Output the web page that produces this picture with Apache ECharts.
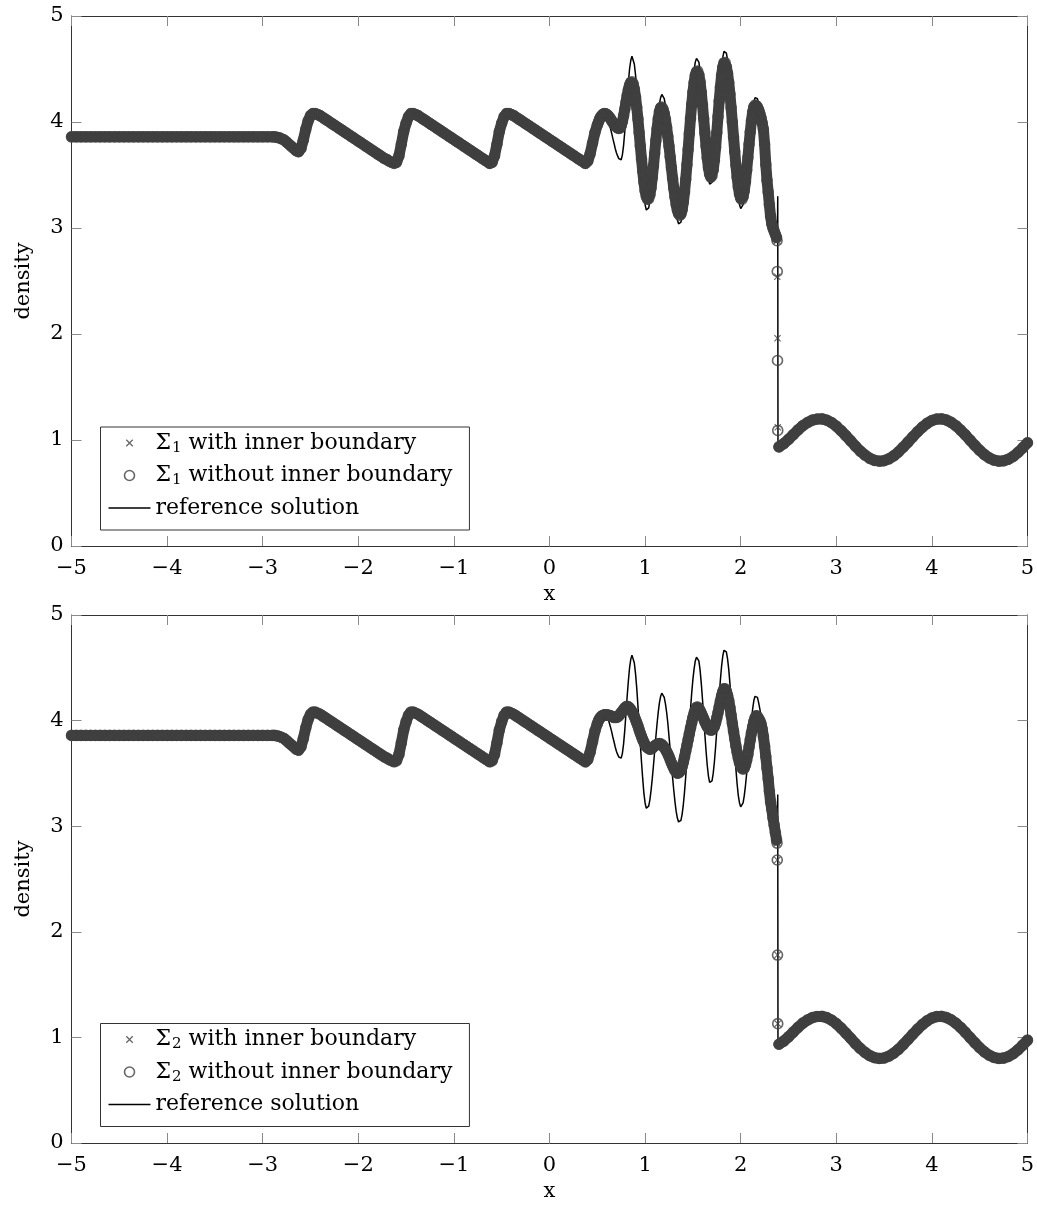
<!DOCTYPE html>
<html>
<head>
<meta charset="utf-8">
<script src="https://cdn.jsdelivr.net/npm/echarts@6/dist/echarts.min.js"></script>
<style>
html,body{margin:0;padding:0;background:#fff;}
#chart{width:1037px;height:1205px;}
</style>
</head>
<body>
<div id="chart"></div>
<script>
// ---------- mesh (cell positions) ----------
function mesh(a, b, h) {
  const n = Math.round((b - a) / h), r = [];
  for (let i = 0; i <= n; i++) r.push(+(a + i * h).toFixed(4));
  return r;
}
const xFlat   = mesh(-5, -2.95, 0.05);      // undisturbed left state
const xSmooth = mesh(-2.9, 0.5, 0.025);     // entropy waves
const xOsc    = mesh(0.5125, 2.375, 0.0125);// high-frequency region
const xRight  = mesh(2.40, 5.0, 0.05);      // pre-shock state
const xShock  = [2.38, 2.3825, 2.385, 2.3875];
const xRefShock = [2.385, 2.3875, 2.39];

// ---------- density values ----------
const rhoFlat = [
  3.86,3.86,3.86,3.86,3.86,3.86,3.86,
  3.86,3.86,3.86,3.86,3.86,3.86,3.86,
  3.86,3.86,3.86,3.86,3.86,3.86,3.86,
  3.86,3.86,3.86,3.86,3.86,3.86,3.86,
  3.86,3.86,3.86,3.86,3.86,3.86,3.86,
  3.86,3.86,3.86,3.86,3.86,3.86,3.86
];
const rhoSmooth = [
  3.86,3.86,3.855,3.85,3.84,3.83,3.81,3.79,3.77,3.75,
  3.73,3.72,3.75,3.83,3.93,4.01,4.06,4.08,4.08,4.07,
  4.06,4.045,4.03,4.015,4.00,3.985,3.97,3.955,3.94,3.925,
  3.91,3.895,3.88,3.865,3.85,3.835,3.82,3.805,3.79,3.775,
  3.76,3.745,3.73,3.715,3.70,3.685,3.67,3.655,3.645,3.63,
  3.62,3.61,3.62,3.68,3.79,3.91,3.99,4.05,4.08,4.08,
  4.07,4.06,4.045,4.03,4.015,4.00,3.985,3.97,3.955,3.94,
  3.925,3.91,3.895,3.88,3.865,3.85,3.835,3.82,3.805,3.79,
  3.775,3.76,3.745,3.73,3.715,3.70,3.685,3.67,3.655,3.64,
  3.625,3.61,3.62,3.68,3.79,3.91,3.99,4.05,4.08,4.08,
  4.07,4.06,4.045,4.03,4.015,4.00,3.985,3.97,3.955,3.94,
  3.925,3.91,3.895,3.88,3.865,3.85,3.835,3.82,3.805,3.79,
  3.775,3.76,3.745,3.73,3.715,3.70,3.685,3.67,3.655,3.64,
  3.625,3.61,3.63,3.70,3.80,3.90,3.97
];
const rhoRight = [
  0.935,0.965,1.005,1.05,1.095,1.135,1.165,1.188,1.198,1.199,
  1.187,1.164,1.13,1.088,1.041,0.992,0.942,0.896,0.858,0.827,
  0.808,0.80,0.805,0.822,0.85,0.887,0.932,0.98,1.03,1.078,
  1.121,1.157,1.183,1.197,1.199,1.189,1.167,1.135,1.094,1.048,
  0.998,0.949,0.902,0.862,0.831,0.81,0.80,0.804,0.819,0.845,
  0.882,0.926,0.974
];
const refOsc = [
  4.00,4.03,4.05,4.06,4.07,4.07,4.064,4.05,4.02,3.98,
  3.94,3.895,3.845,3.80,3.75,3.71,3.68,3.655,3.642,3.644,
  3.69,3.78,3.91,4.07,4.23,4.375,4.50,4.58,4.62,4.605,
  4.545,4.445,4.31,4.14,3.96,3.78,3.605,3.45,3.31,3.22,
  3.17,3.163,3.19,3.25,3.34,3.45,3.575,3.71,3.845,3.97,
  4.08,4.17,4.23,4.26,4.255,4.22,4.16,4.08,3.98,3.85,
  3.725,3.59,3.46,3.34,3.23,3.14,3.077,3.04,3.03,3.055,
  3.115,3.205,3.325,3.47,3.62,3.785,3.955,4.11,4.26,4.39,
  4.49,4.565,4.60,4.606,4.565,4.48,4.355,4.205,4.04,3.87,
  3.715,3.577,3.475,3.415,3.40,3.43,3.50,3.61,3.75,3.91,
  4.07,4.24,4.385,4.515,4.61,4.666,4.68,4.65,4.585,4.485,
  4.35,4.205,4.035,3.86,3.69,3.54,3.40,3.29,3.22,3.183,
  3.186,3.22,3.29,3.385,3.50,3.63,3.765,3.895,4.01,4.11,
  4.19,4.23,4.24,4.22,4.17,4.11,4.04,3.95,3.84,3.71,
  3.58,3.45,3.33,3.23,3.14,3.08,3.04,3.01,2.985,2.97
];
const refShock = [3.00, 3.30, 0.93];
const sigma1Osc = [
  4.00,4.03,4.05,4.065,4.075,4.08,4.078,4.071,4.061,4.047,
  4.031,4.013,3.996,3.979,3.965,3.953,3.944,3.94,3.944,3.965,
  4.004,4.059,4.12,4.186,4.25,4.305,4.348,4.373,4.38,4.359,
  4.31,4.236,4.138,4.029,3.902,3.774,3.65,3.536,3.432,3.352,
  3.299,3.272,3.276,3.313,3.38,3.474,3.584,3.705,3.826,3.935,
  4.03,4.097,4.134,4.14,4.12,4.082,4.026,3.951,3.865,3.773,
  3.672,3.569,3.469,3.375,3.293,3.222,3.169,3.135,3.12,3.131,
  3.172,3.242,3.339,3.46,3.596,3.74,3.89,4.034,4.167,4.281,
  4.371,4.439,4.474,4.48,4.445,4.378,4.281,4.163,4.033,3.899,
  3.773,3.661,3.568,3.506,3.48,3.493,3.547,3.638,3.759,3.90,
  4.05,4.198,4.327,4.441,4.519,4.557,4.56,4.521,4.458,4.372,
  4.263,4.133,4.0,3.858,3.721,3.592,3.478,3.387,3.319,3.28,
  3.27,3.295,3.352,3.437,3.545,3.665,3.79,3.908,4.011,4.094,
  4.142,4.16,4.155,4.14,4.115,4.08,4.04,3.99,3.93,3.79,
  3.60,3.45,3.34,3.22,3.11,3.04,3.0,2.97,2.94,2.91
];
const sigma1WithShock    = [2.88, 2.54, 1.96, 1.12];
const sigma1WithoutShock = [2.88, 2.59, 1.75, 1.09];
const sigma2Osc = [
  4.00,4.02,4.035,4.045,4.05,4.055,4.055,4.055,4.05,4.05,
  4.045,4.04,4.035,4.03,4.03,4.03,4.035,4.045,4.06,4.075,
  4.09,4.105,4.12,4.13,4.135,4.13,4.12,4.105,4.085,4.065,
  4.04,4.01,3.98,3.95,3.915,3.88,3.85,3.82,3.795,3.77,
  3.755,3.745,3.735,3.73,3.732,3.74,3.75,3.76,3.768,3.775,
  3.78,3.782,3.78,3.772,3.76,3.745,3.728,3.708,3.685,3.66,
  3.63,3.60,3.575,3.55,3.528,3.512,3.503,3.505,3.515,3.535,
  3.565,3.605,3.655,3.71,3.765,3.82,3.875,3.93,3.98,4.03,
  4.07,4.10,4.125,4.128,4.115,4.095,4.07,4.045,4.018,3.99,
  3.965,3.943,3.927,3.915,3.91,3.912,3.925,3.945,3.98,4.025,
  4.075,4.13,4.185,4.235,4.275,4.30,4.30,4.28,4.24,4.19,
  4.125,4.05,3.975,3.90,3.83,3.76,3.70,3.645,3.60,3.57,
  3.55,3.54,3.55,3.58,3.625,3.68,3.75,3.82,3.885,3.94,
  3.99,4.025,4.045,4.04,4.02,4.0,3.97,3.92,3.85,3.76,
  3.66,3.55,3.45,3.33,3.23,3.16,3.08,3.01,2.94,2.87
];
const sigma2WithShock    = [2.84, 2.68, 1.78, 1.13];
const sigma2WithoutShock = [2.84, 2.68, 1.78, 1.13];

const xTicks = [-5,-4,-3,-2,-1,0,1,2,3,4,5];
const yTicks = [0,1,2,3,4,5];

// ---------- assembly ----------
function pts(xs, ys) {
  if (xs.length !== ys.length) throw new Error('length mismatch ' + xs.length + ' / ' + ys.length);
  return xs.map((x, i) => [x, ys[i]]);
}
const common = [...pts(xFlat, rhoFlat), ...pts(xSmooth, rhoSmooth)];
const right = pts(xRight, rhoRight);
const refData = [...common, ...pts(xOsc, refOsc), ...pts(xRefShock, refShock), ...right];
function markerData(osc, shock) { return [...common, ...pts(xOsc, osc), ...pts(xShock, shock), ...right]; }
function bandData(osc) { return [...common, ...pts(xOsc, osc), [2.39, '-'], ...right]; }

const FONT = 'DejaVu Serif';
const MARK = '#404040';
const X_PATH = 'path://M0.8,0L3.5,2.7L6.2,0L7,0.8L4.3,3.5L7,6.2L6.2,7L3.5,4.3L0.8,7L0,6.2L2.7,3.5L0,0.8Z';
const X_ICON = 'path://M0,0h0.01v0.01h-0.01z M9.99,9.99h0.01v0.01h-0.01z M2.2,1.3L5,4.1L7.8,1.3L8.7,2.2L5.9,5L8.7,7.8L7.8,8.7L5,5.9L2.2,8.7L1.3,7.8L4.1,5L1.3,2.2Z';
const LINE_ICON = 'path://M0,0L42,0L42,1.5L0,1.5Z';

const legendLabels = {
  s1w:  '{n|Σ}{s|1}{n| with inner boundary}',
  s1wo: '{n|Σ}{s|1}{n| without inner boundary}',
  s2w:  '{n|Σ}{s|2}{n| with inner boundary}',
  s2wo: '{n|Σ}{s|2}{n| without inner boundary}',
  'reference solution': '{n|reference solution}'
};
const fmtTick = v => (v < 0 ? '\u2212' + Math.abs(v) : String(v));
const lineStyleAxis = { color: '#333', width: 1 };
const tickStyle = { color: '#8a8a8a', width: 1 };

function xAx(g, pos) {
  return {
    type: 'value', gridIndex: g, position: pos, min: xTicks[0], max: xTicks[xTicks.length - 1], interval: 1,
    axisLine: { show: true, onZero: false, lineStyle: lineStyleAxis },
    axisTick: { show: true, inside: true, length: 10, lineStyle: tickStyle },
    axisLabel: { show: pos === 'bottom', margin: 12, fontFamily: FONT, fontSize: 21, color: '#000',
      formatter: fmtTick, showMinLabel: true, showMaxLabel: true },
    splitLine: { show: false },
    name: pos === 'bottom' ? 'x' : '', nameLocation: 'middle', nameGap: 38,
    nameTextStyle: { fontFamily: FONT, fontSize: 21, color: '#000' }
  };
}
function yAx(g, pos) {
  return {
    type: 'value', gridIndex: g, position: pos, min: yTicks[0], max: yTicks[yTicks.length - 1], interval: 1,
    axisLine: { show: true, onZero: false, lineStyle: lineStyleAxis },
    axisTick: { show: true, inside: true, length: 10, lineStyle: tickStyle },
    axisLabel: { show: pos === 'left', margin: 8, fontFamily: FONT, fontSize: 21, color: '#000',
      formatter: fmtTick, showMinLabel: true, showMaxLabel: true },
    splitLine: { show: false },
    name: pos === 'left' ? 'density' : '', nameLocation: 'middle', nameGap: 37, nameRotate: 90,
    nameTextStyle: { fontFamily: FONT, fontSize: 21, color: '#000' }
  };
}

function panelSeries(g, names, osc, withShock, withoutShock) {
  const ax = { xAxisIndex: g * 2, yAxisIndex: g * 2 };
  return [
    Object.assign({ type: 'line', name: 'reference solution', data: refData, symbol: 'none', showSymbol: false,
      lineStyle: { color: '#000', width: 1.5 }, itemStyle: { color: '#000' }, z: 1 }, ax),
    Object.assign({ type: 'line', name: 'band' + g, data: bandData(osc), symbol: 'none', silent: true, clip: false,
      lineStyle: { color: MARK, width: 11, cap: 'round', join: 'round' }, itemStyle: { color: MARK }, z: 2 }, ax),
    Object.assign({ type: 'scatter', name: names[1], data: markerData(osc, withoutShock), symbol: 'circle', symbolSize: 10, clip: false,
      itemStyle: { color: 'rgba(0,0,0,0)', borderColor: MARK, borderWidth: 1.6 }, z: 3 }, ax),
    Object.assign({ type: 'scatter', name: names[0], data: markerData(osc, withShock), symbol: X_PATH, symbolSize: 7, clip: false,
      itemStyle: { color: MARK, borderWidth: 0 }, z: 4 }, ax)
  ];
}

function legendFor(names, top) {
  return {
    orient: 'vertical', left: 100.5, top: top, align: 'left',
    itemWidth: 42, itemHeight: 10, itemGap: 9,
    padding: [5, 17, 11, 8],
    borderColor: '#333', borderWidth: 1, backgroundColor: '#fff',
    selectedMode: false,
    data: [
      { name: names[0], icon: X_ICON, itemStyle: { color: MARK, borderWidth: 0 } },
      { name: names[1], icon: 'circle', itemStyle: { color: 'rgba(0,0,0,0)', borderColor: MARK, borderWidth: 1.6 } },
      { name: 'reference solution', icon: LINE_ICON, itemStyle: { color: '#000', borderWidth: 0 } }
    ],
    formatter: n => legendLabels[n],
    textStyle: {
      fontFamily: FONT, fontSize: 22, color: '#000',
      rich: {
        n: { fontFamily: FONT, fontSize: 22, color: '#000' },
        s: { fontFamily: FONT, fontSize: 15, color: '#000', padding: [10, 0, 0, 1] }
      }
    }
  };
}

const chart = echarts.init(document.getElementById('chart'), null, { renderer: 'canvas' });
chart.setOption({
  animation: false,
  backgroundColor: '#fff',
  grid: [
    { left: 71.5, top: 16, width: 956, height: 530, outerBoundsMode: 'none' },
    { left: 71.5, top: 615, width: 956, height: 528, outerBoundsMode: 'none' }
  ],
  xAxis: [xAx(0, 'bottom'), xAx(0, 'top'), xAx(1, 'bottom'), xAx(1, 'top')],
  yAxis: [yAx(0, 'left'), yAx(0, 'right'), yAx(1, 'left'), yAx(1, 'right')],
  legend: [legendFor(['s1w', 's1wo'], 427), legendFor(['s2w', 's2wo'], 1023.5)],
  series: [
    ...panelSeries(0, ['s1w', 's1wo'], sigma1Osc, sigma1WithShock, sigma1WithoutShock),
    ...panelSeries(1, ['s2w', 's2wo'], sigma2Osc, sigma2WithShock, sigma2WithoutShock)
  ]
});
</script>
</body>
</html>
